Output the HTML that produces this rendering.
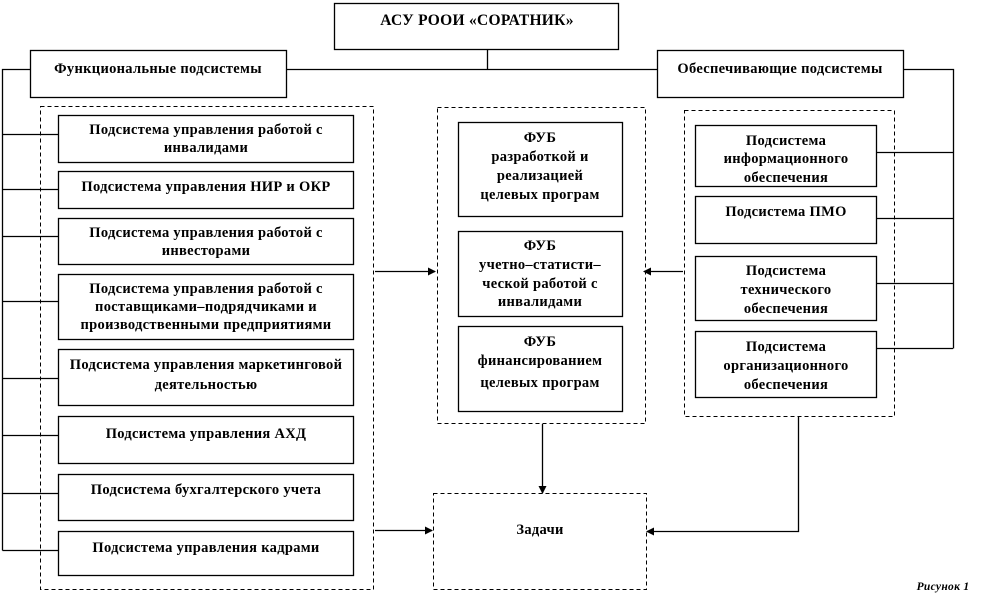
<!DOCTYPE html>
<html><head><meta charset="utf-8"><style>
html,body{margin:0;padding:0;background:#fff;}
svg{display:block;}
text{font-family:"Liberation Serif","DejaVu Serif",serif;font-weight:bold;font-size:14.5px;fill:#000;text-anchor:middle;letter-spacing:0.3px;}
</style></head><body>
<svg width="982" height="607" viewBox="0 0 982 607" xmlns="http://www.w3.org/2000/svg">
<defs><marker id="a" markerWidth="8" markerHeight="8" refX="7" refY="4" orient="auto" markerUnits="userSpaceOnUse"><path d="M0,0 L8,4 L0,8 z" fill="#000"/></marker></defs>
<g fill="none" stroke="#000" stroke-width="1.3">
<rect x="334.5" y="3.5" width="284" height="46"/>
<rect x="30.5" y="50.5" width="256" height="47"/>
<rect x="657.5" y="50.5" width="246" height="47"/>
<path d="M487.5,49 V69.5 M286,69.5 H657 M30,69.5 H2.5 V550.5 M903,69.5 H953.5 V348.5"/>
<path d="M2.5,134.5 H58 M2.5,189.5 H58 M2.5,236.5 H58 M2.5,301.5 H58 M2.5,378.5 H58 M2.5,435.5 H58 M2.5,493.5 H58 M2.5,550.5 H58"/>
<path d="M876,152.5 H953 M876,218.5 H953 M876,283.5 H953 M876,348.5 H953"/>
<rect x="58.5" y="115.5" width="295" height="47"/>
<rect x="58.5" y="171.5" width="295" height="37"/>
<rect x="58.5" y="218.5" width="295" height="46"/>
<rect x="58.5" y="274.5" width="295" height="65"/>
<rect x="58.5" y="349.5" width="295" height="56"/>
<rect x="58.5" y="416.5" width="295" height="47"/>
<rect x="58.5" y="474.5" width="295" height="46"/>
<rect x="58.5" y="531.5" width="295" height="44"/>
<rect x="458.5" y="122.5" width="164" height="94"/>
<rect x="458.5" y="231.5" width="164" height="85"/>
<rect x="458.5" y="326.5" width="164" height="85"/>
<rect x="695.5" y="125.5" width="181" height="61"/>
<rect x="695.5" y="196.5" width="181" height="47"/>
<rect x="695.5" y="256.5" width="181" height="64"/>
<rect x="695.5" y="331.5" width="181" height="66"/>
<g stroke-dasharray="4,3" stroke-width="1">
<rect x="40.5" y="106.5" width="333" height="483"/>
<rect x="437.5" y="107.5" width="208" height="316"/>
<rect x="684.5" y="110.5" width="210" height="306"/>
<rect x="433.5" y="493.5" width="213" height="96"/>
</g>
<path d="M375,271.5 H435" marker-end="url(#a)"/>
<path d="M683,271.5 H644" marker-end="url(#a)"/>
<path d="M542.5,424 V493" marker-end="url(#a)"/>
<path d="M375,530.5 H432" marker-end="url(#a)"/>
<path d="M798.5,417 V531.5 H647" marker-end="url(#a)"/>
</g>
<text x="477" y="25" style="font-size:15.5px">АСУ РООИ «СОРАТНИК»</text>
<text x="158" y="73">Функциональные подсистемы</text>
<text x="780" y="73">Обеспечивающие подсистемы</text>
<text x="206" y="134">Подсистема управления работой с</text>
<text x="206" y="152">инвалидами</text>
<text x="206" y="191">Подсистема управления НИР и ОКР</text>
<text x="206" y="237">Подсистема управления работой с</text>
<text x="206" y="255">инвесторами</text>
<text x="206" y="293">Подсистема управления работой с</text>
<text x="206" y="311">поставщиками–подрядчиками и</text>
<text x="206" y="329">производственными предприятиями</text>
<text x="206" y="369">Подсистема управления маркетинговой</text>
<text x="206" y="389">деятельностью</text>
<text x="206" y="438">Подсистема управления АХД</text>
<text x="206" y="494">Подсистема бухгалтерского  учета</text>
<text x="206" y="552">Подсистема управления кадрами</text>
<text x="540" y="142">ФУБ</text>
<text x="540" y="161">разработкой и</text>
<text x="540" y="180">реализацией</text>
<text x="540" y="199">целевых програм</text>
<text x="540" y="250">ФУБ</text>
<text x="540" y="269">учетно–статисти–</text>
<text x="540" y="288">ческой работой с</text>
<text x="540" y="306">инвалидами</text>
<text x="540" y="346">ФУБ</text>
<text x="540" y="365">финансированием</text>
<text x="540" y="387">целевых програм</text>
<text x="786" y="145">Подсистема</text>
<text x="786" y="163">информационного</text>
<text x="786" y="182">обеспечения</text>
<text x="786" y="216">Подсистема ПМО</text>
<text x="786" y="275">Подсистема</text>
<text x="786" y="294">технического</text>
<text x="786" y="313">обеспечения</text>
<text x="786" y="351">Подсистема</text>
<text x="786" y="370">организационного</text>
<text x="786" y="389">обеспечения</text>
<text x="540" y="534">Задачи</text>
<text x="943" y="590" style="font-style:italic;font-size:11.5px;">Рисунок 1</text>
</svg>
</body></html>
